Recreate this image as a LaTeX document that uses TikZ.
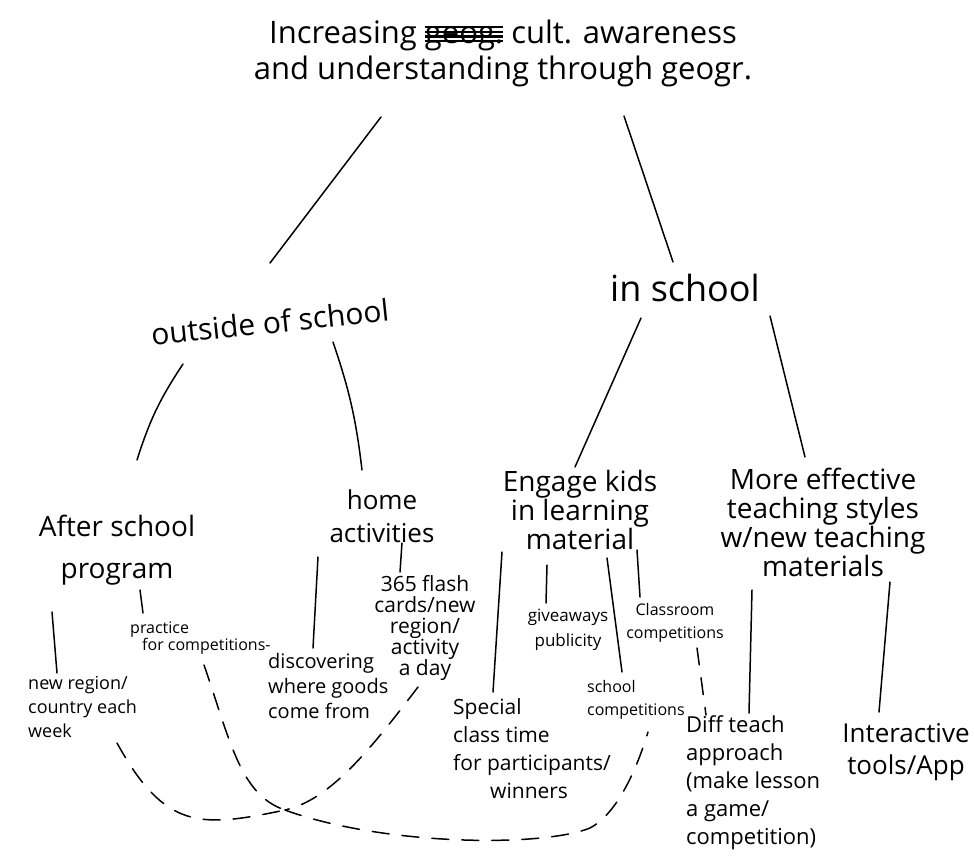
\documentclass[tikz,border=0pt]{standalone}
\usepackage{fontspec}
\setmainfont{Open Sans}
\newcommand{\fsz}[2]{\fontsize{#1}{#2}\selectfont}
\newlength{\scrw}
\newcommand{\scribbled}[1]{\settowidth{\scrw}{#1}\rlap{#1}\rlap{\rule[0.02em]{\scrw}{2.4pt}}\rlap{\rule[0.17em]{\scrw}{2.4pt}}\rlap{\rule[0.32em]{\scrw}{2.4pt}}\rule[0.47em]{\scrw}{2.4pt}}
\tikzset{
  conn/.style={line width=1.5pt, line cap=round, black},
  dashconn/.style={conn, dash pattern=on 17pt off 13pt},
  lbl/.style={inner sep=0pt, align=center, text=black},
  lbll/.style={inner sep=0pt, align=left, text=black, anchor=west},
}
\begin{document}
\begin{tikzpicture}[x=1pt,y=-1pt]
\useasboundingbox (0,0) rectangle (974,864);
\fill[white] (0,0) rectangle (974,864);

% ---- nodes ----
\node[lbl, font=\fsz{31}{36}] (title) at (503,53) {Increasing \scribbled{geog.} cult. awareness\\and understanding through geogr.};
\node[lbl, font=\fsz{36}{40}] (inschool) at (685,288) {in school};
\node[lbl, font=\fsz{30}{34}, rotate=6] (outside) at (270,322) {outside of school};
\node[lbl, font=\fsz{28}{42}] (after) at (117,550) {After school\\program};
\node[lbl, font=\fsz{26}{33}] (home) at (382,516) {home\\activities};
\node[lbl, font=\fsz{28}{29}] (engage) at (580,510) {Engage kids\\in learning\\material};
\node[lbl, font=\fsz{28}{29}] (effective) at (823,522) {More effective\\teaching styles\\w/new teaching\\materials};

\node[lbll, font=\fsz{18}{24}] (newregion) at (28,707) {new region/\\country each\\week};
\node[lbll, font=\fsz{16}{17}] (practice) at (130,638) {practice\\\hspace*{12pt}for competitions-};
\node[lbl, font=\fsz{21}{21}] (flash) at (425,628) {365 flash\\cards/new\\region/\\activity\\a day};
\node[lbll, font=\fsz{20}{25}] (discover) at (268,686) {discovering\\where goods\\come from};
\node[lbll, font=\fsz{21}{28}] (special) at (453,749) {Special\\class time\\for participants/\\\hspace*{37pt}winners};
\node[lbl, font=\fsz{17}{25}] (giveaways) at (568,630) {giveaways\\publicity};
\node[lbl, font=\fsz{16}{23}] (classroom) at (675,623) {Classroom\\competitions};
\node[lbll, font=\fsz{16}{23}] (schoolcomp) at (587,700) {school\\competitions};
\node[lbll, font=\fsz{22}{28}] (diff) at (686,783) {Diff teach\\approach\\(make lesson\\a game/\\competition)};
\node[lbl, font=\fsz{26}{32}] (interactive) at (906,752) {Interactive\\tools/App};

% ---- connector end points ----
\coordinate (t-o) at (381,117);   \coordinate (o-t) at (270,263);
\coordinate (t-i) at (624,116);   \coordinate (i-t) at (673,262);
\coordinate (o-a) at (183,364);   \coordinate (a-o) at (137,460);
\coordinate (o-h) at (333,342);   \coordinate (h-o) at (362,470);
\coordinate (i-e) at (641,318);   \coordinate (e-i) at (575,467);
\coordinate (i-m) at (770,316);   \coordinate (m-i) at (805,457);
\coordinate (a-n) at (52,612);    \coordinate (n-a) at (57,673);
\coordinate (a-p) at (140,590);   \coordinate (p-a) at (143,613);
\coordinate (h-f) at (402,543);   \coordinate (f-h) at (400,572);
\coordinate (h-d) at (318,557);   \coordinate (d-h) at (313,648);
\coordinate (e-s) at (502,552);   \coordinate (s-e) at (493,692);
\coordinate (e-g) at (547,565);   \coordinate (g-e) at (546,603);
\coordinate (e-c) at (607,558);   \coordinate (c-e) at (622,672);
\coordinate (e-k) at (637,550);   \coordinate (k-e) at (640,597);
\coordinate (m-d) at (752,590);   \coordinate (d-m) at (749,713);
\coordinate (m-n) at (890,582);   \coordinate (n-m) at (879,712);

% ---- solid connectors ----
\draw[conn] (t-o) -- (o-t);
\draw[conn] (t-i) -- (i-t);
\draw[conn] (o-a) to[bend right=8] (a-o);
\draw[conn] (o-h) to[bend left=6] (h-o);
\draw[conn] (i-e) -- (e-i);
\draw[conn] (i-m) -- (m-i);
\draw[conn] (a-n) -- (n-a);
\draw[conn] (a-p) -- (p-a);
\draw[conn] (h-f) -- (f-h);
\draw[conn] (h-d) -- (d-h);
\draw[conn] (e-s) -- (s-e);
\draw[conn] (e-g) -- (g-e);
\draw[conn] (e-c) -- (c-e);
\draw[conn] (e-k) -- (k-e);
\draw[conn] (m-d) -- (d-m);
\draw[conn] (m-n) -- (n-m);

% ---- dashed links ----
\coordinate (k-d) at (697,648);   \coordinate (d-k) at (706,715);
\coordinate (n-j) at (117,743);   \coordinate (p-j) at (204,665);
\coordinate (f-j) at (418,687);   \coordinate (junction) at (285,810);
\coordinate (c-j) at (648,732);   \coordinate (bend) at (590,828);

\draw[dashconn] (k-d) -- (d-k);
\draw[dashconn] (n-j) .. controls (165,830) and (200,828) .. (junction);
\draw[dashconn] (p-j) .. controls (230,740) and (240,795) .. (junction);
\draw[dashconn] (f-j) .. controls (370,750) and (330,800) .. (junction);
\draw[dashconn] (junction) .. controls (380,845) and (540,848) .. (bend)
                .. controls (615,815) and (635,775) .. (c-j);
\end{tikzpicture}
\end{document}
